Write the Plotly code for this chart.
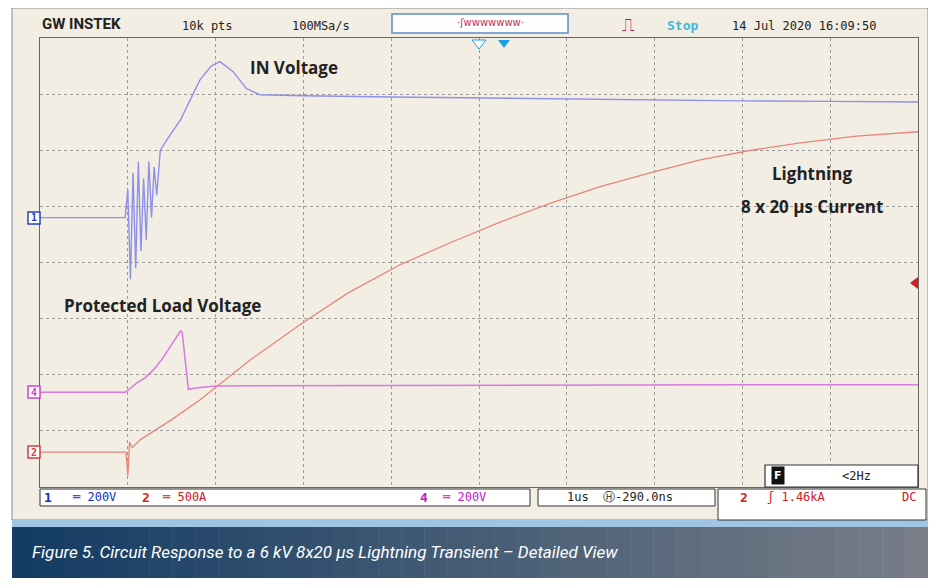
import plotly.graph_objects as go

# ---- data (screen divisions: x 0..10, y 0..8) ----
in_x = [0, 0.97, 1.0, 1.03, 1.06, 1.09, 1.12, 1.15, 1.18, 1.21, 1.24, 1.27, 1.3, 1.33, 1.37, 1.45, 1.6, 1.7, 1.82, 1.95, 2.05, 2.2, 2.35, 2.5, 3.0, 4.0, 5.0, 6.0, 7.0, 8.0, 9.0, 10.0]
in_y = [4.8, 4.8, 5.3, 3.7, 5.6, 3.9, 5.8, 4.2, 5.5, 4.4, 5.8, 4.8, 5.7, 5.2, 6.0, 6.2, 6.54, 6.85, 7.25, 7.5, 7.58, 7.4, 7.1, 6.99, 6.97, 6.95, 6.93, 6.91, 6.9, 6.88, 6.87, 6.86]
load_x = [0, 0.97, 1.0, 1.1, 1.2, 1.3, 1.4, 1.5, 1.6, 1.62, 1.66, 1.69, 1.8, 2.0, 4.0, 6.0, 8.0, 10.0]
load_y = [1.69, 1.69, 1.72, 1.85, 1.95, 2.1, 2.3, 2.55, 2.78, 2.75, 2.2, 1.74, 1.77, 1.8, 1.81, 1.82, 1.82, 1.82]
cur_x = [0, 0.98, 1.0, 1.02, 1.05, 1.14, 1.3, 1.5, 1.82, 2.1, 2.39, 2.96, 3.5, 4.1, 4.7, 5.24, 5.8, 6.38, 7.0, 7.52, 8.1, 8.66, 9.3, 10.0]
cur_y = [0.62, 0.62, 0.2, 0.8, 0.7, 0.84, 1.0, 1.2, 1.55, 1.9, 2.26, 2.89, 3.45, 3.96, 4.37, 4.72, 5.05, 5.35, 5.62, 5.83, 6.0, 6.13, 6.25, 6.33]

OFF = 8  # browser body margin
W, H = 936 - OFF, 588 - OFF
def px(x): return (x - OFF) / W
def py(y): return 1 - (y - OFF) / H

fig = go.Figure()
fig.add_trace(go.Scatter(x=cur_x, y=cur_y, mode="lines", line=dict(color="#e8857a", width=1.3)))
fig.add_trace(go.Scatter(x=load_x, y=load_y, mode="lines", line=dict(color="#d77be0", width=1.5)))
fig.add_trace(go.Scatter(x=in_x, y=in_y, mode="lines", line=dict(color="#8f90e8", width=1.4)))

shapes = []
n = 40
c0, c1 = (20, 60, 100), (120, 125, 135)
x0, x1 = 12, 928
for i in range(n):
    t = i / (n - 1)
    c = tuple(int(c0[k] + (c1[k] - c0[k]) * t) for k in range(3))
    shapes.append(dict(type="rect", xref="paper", yref="paper",
                       x0=px(x0 + (x1 - x0) * i / n), x1=px(x0 + (x1 - x0) * (i + 1) / n + 0.5),
                       y0=py(578), y1=py(527), fillcolor="rgb(%d,%d,%d)" % c, line_width=0))
shapes.append(dict(type="rect", xref="paper", yref="paper", x0=px(12), x1=px(928), y0=py(527), y1=py(520),
                   fillcolor="#9fc4e4", line_width=0))
shapes.append(dict(type="rect", xref="paper", yref="paper", x0=px(12), x1=px(928), y0=py(520), y1=py(8),
                   fillcolor="#f2eee4", line=dict(color="#8a8a8a", width=1), layer="below"))
shapes.append(dict(type="rect", xref="paper", yref="paper", x0=px(392), x1=px(568), y0=py(33), y1=py(14),
                   fillcolor="white", line=dict(color="#5a8fc8", width=1.5)))
for a, b in [(40, 530), (538, 715)]:
    shapes.append(dict(type="rect", xref="paper", yref="paper", x0=px(a), x1=px(b), y0=py(506), y1=py(489),
                       fillcolor="white", line=dict(color="#333", width=1)))
shapes.append(dict(type="rect", xref="paper", yref="paper", x0=px(718), x1=px(926), y0=py(520), y1=py(489),
                   fillcolor="white", line=dict(color="#333", width=1)))
shapes.append(dict(type="rect", xref="paper", yref="paper", x0=px(765), x1=px(918), y0=py(487), y1=py(465),
                   fillcolor="white", line=dict(color="#333", width=1.2)))
for y, col in [(218, "#2a40c8"), (392, "#d040d0"), (452, "#d04040")]:
    shapes.append(dict(type="rect", xref="paper", yref="paper", x0=px(28), x1=px(40), y0=py(y + 6), y1=py(y - 6),
                       fillcolor="white", line=dict(color=col, width=1.5)))
shapes.append(dict(type="path", xref="paper", yref="paper",
                   path="M %f %f L %f %f L %f %f Z" % (px(918), py(277), px(910), py(283), px(918), py(289)),
                   fillcolor="#d02020", line_width=0))
shapes.append(dict(type="path", xref="paper", yref="paper",
                   path="M %f %f L %f %f L %f %f Z" % (px(498), py(40), px(510), py(40), px(504), py(48)),
                   fillcolor="#1aa0e0", line_width=0))
shapes.append(dict(type="path", xref="paper", yref="paper",
                   path="M %f %f L %f %f L %f %f Z" % (px(472), py(40), px(486), py(40), px(479), py(49)),
                   fillcolor="white", line=dict(color="#1aa0e0", width=1)))

mono = "DejaVu Sans Mono"
def ann(x, y, text, color="#222", size=12, family=mono, xanchor="left", bold=False, italic=False, **kw):
    if bold: text = "<b>%s</b>" % text
    if italic: text = "<i>%s</i>" % text
    return dict(x=px(x), y=py(y), xref="paper", yref="paper", text=text, showarrow=False,
                xanchor=xanchor, yanchor="middle", font=dict(color=color, size=size, family=family), **kw)

annotations = [
    ann(40, 24, "GW INSTEK", "#222", 15, "Roboto", bold=True),
    ann(180, 26, "10k pts", "#222", 12),
    ann(290, 26, "100MSa/s", "#222", 12),
    ann(455, 22, "·ʃwwwwwww·", "#c03060", 10, "DejaVu Sans"),
    ann(620, 24, "⎍", "#b0206a", 18, "DejaVu Sans"),
    ann(665, 26, "Stop", "#3bb8e0", 13, mono, bold=True),
    ann(730, 26, "14 Jul 2020 16:09:50", "#222", 12),
    ann(248, 67, "IN Voltage", "#222", 17, "Open Sans", bold=True),
    ann(812, 173, "Lightning", "#222", 17, "Open Sans", "center", bold=True),
    ann(812, 206, "8 x 20 µs Current", "#222", 17, "Open Sans", "center", bold=True),
    ann(62, 305, "Protected Load Voltage", "#222", 17, "Open Sans", bold=True),
    ann(42, 497, "<b>1</b>", "#1030c0", 13), ann(70, 497, "═ 200V", "#1030c0", 12),
    ann(140, 497, "<b>2</b>", "#d02020", 13), ann(160, 497, "═ 500A", "#d02020", 12),
    ann(418, 497, "<b>4</b>", "#c020c0", 13), ann(440, 497, "═ 200V", "#c020c0", 12),
    ann(565, 497, "1us  Ⓗ-290.0ns", "#222", 12),
    ann(738, 497, "<b>2</b>", "#d02020", 13), ann(765, 497, "ʃ 1.46kA", "#d02020", 12),
    ann(918, 497, "DC", "#d02020", 12, xanchor="right"),
    ann(778, 476, "F", "white", 11, "DejaVu Sans", "center", bold=True, bgcolor="#111", borderpad=2),
    ann(840, 476, "<2Hz", "#222", 12),
    ann(34, 218, "<b>1</b>", "#2a40c8", 10, xanchor="center"),
    ann(34, 392, "<b>4</b>", "#d040d0", 10, xanchor="center"),
    ann(34, 452, "<b>2</b>", "#d04040", 10, xanchor="center"),
    ann(30, 552, "Figure 5. Circuit Response to a 6 kV 8x20 µs Lightning Transient – Detailed View", "white", 17,
        "Roboto", italic=True),
]

fig.update_layout(
    width=W, height=H, margin=dict(l=0, r=0, t=0, b=0),
    paper_bgcolor="white", plot_bgcolor="#fbfbf8", showlegend=False,
    shapes=shapes, annotations=annotations,
    xaxis=dict(domain=[px(40), px(918)], range=[0, 10], tickvals=list(range(1, 10)), showticklabels=False,
               showgrid=True, gridcolor="#9a9a9a", griddash="dot", zeroline=False, showline=True,
               linecolor="#666", mirror=True, ticks=""),
    yaxis=dict(domain=[py(487), py(38)], range=[0, 8], tickvals=list(range(1, 8)), showticklabels=False,
               showgrid=True, gridcolor="#9a9a9a", griddash="dot", zeroline=False, showline=True,
               linecolor="#666", mirror=True, ticks=""),
)
fig.write_html("out.html")
